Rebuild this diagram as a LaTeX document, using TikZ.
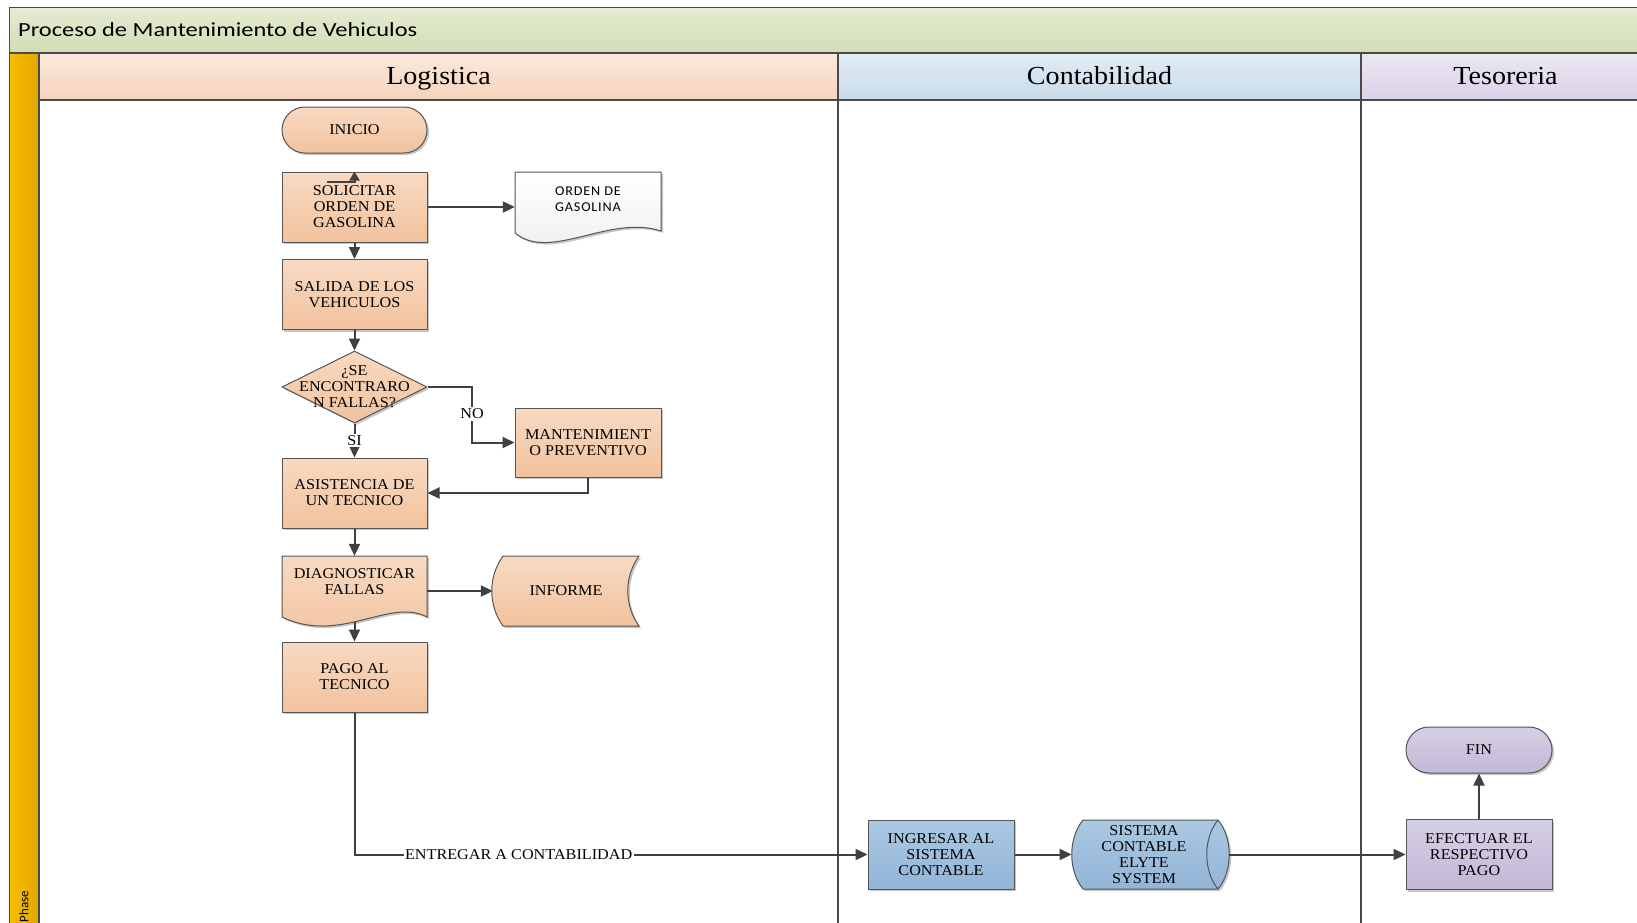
\documentclass[tikz,border=0pt]{standalone}
\usepackage{fontspec}
\setmainfont{Liberation Serif}
\newfontfamily\boxfont{Liberation Serif}[FakeStretch=1.08]
\newfontfamily\titlefont{Carlito}[FakeStretch=1.22]
\newfontfamily\docfont{Carlito}[FakeStretch=1.05,LetterSpace=6]
\newfontfamily\phasefont{Carlito}
\usetikzlibrary{arrows.meta,shapes.geometric,shadows,calc}

\newcommand\boxtxt{\boxfont\fontsize{15}{16}\selectfont}
\newcommand\headtxt{\boxfont\fontsize{26}{30}\selectfont}
\newcommand\titletxt{\titlefont\fontsize{20}{24}\selectfont}
\newcommand\doctxt{\docfont\fontsize{13.5}{16}\selectfont}
\newcommand\phasetxt{\phasefont\fontsize{13}{15}\selectfont}

\definecolor{laneline}{HTML}{4A4A4A}
\definecolor{boxline}{HTML}{555555}
\definecolor{conncol}{HTML}{404040}
\definecolor{titletop}{HTML}{E4EBD2}
\definecolor{titlebot}{HTML}{D3DDB4}
\definecolor{phaseA}{HTML}{F8BE00}
\definecolor{phaseB}{HTML}{E2A700}
\definecolor{logtop}{HTML}{FBE9DC}
\definecolor{logbot}{HTML}{F5D3BC}
\definecolor{contop}{HTML}{E2ECF5}
\definecolor{conbot}{HTML}{C8DBE9}
\definecolor{testop}{HTML}{ECE8F3}
\definecolor{tesbot}{HTML}{DAD2E7}
\definecolor{peachtop}{HTML}{F8DAC2}
\definecolor{peachbot}{HTML}{F2C29D}
\definecolor{bluetop}{HTML}{ABC8E2}
\definecolor{bluebot}{HTML}{92B5D8}
\definecolor{liltop}{HTML}{D6D0E4}
\definecolor{lilbot}{HTML}{C2B8D6}
\definecolor{docgray}{HTML}{EDEDED}

\begin{document}
\begin{tikzpicture}[x=1pt,y=-1pt,
  lane/.style={draw=laneline, line width=1.5pt},
  shade/.style={drop shadow={shadow xshift=2pt,shadow yshift=-2pt,opacity=.22,fill=black}},
  box/.style={rectangle, draw=boxline, line width=1pt, minimum width=145,
    minimum height=70, inner sep=2pt, align=center, font=\boxtxt, shade},
  term/.style={box, rounded corners=23, minimum height=46},
  shapeline/.style={draw=boxline, line width=1pt, shade},
  peachfill/.style={top color=peachtop, bottom color=peachbot},
  bluefill/.style={top color=bluetop, bottom color=bluebot},
  lilacfill/.style={top color=liltop, bottom color=lilbot},
  holder/.style={rectangle, inner sep=0pt},
  txt/.style={align=center, font=\boxtxt, inner sep=0pt},
  conn/.style={draw=conncol, line width=2pt, -{Triangle[length=12pt,width=11pt]}},
  lbl/.style={fill=white, inner sep=1.5pt, font=\boxtxt},
  head/.style={font=\headtxt, anchor=base, inner sep=0pt},
]
\clip (0,0) rectangle (1637,922);
\fill[white] (0,0) rectangle (1637,922);

% pool title band
\path[lane, top color=titletop, bottom color=titlebot] (9.5,7.5) rectangle (1700,53);
\node[anchor=west, font=\titletxt, inner sep=0pt] (title) at (18,30) {Proceso de Mantenimiento de Vehiculos};

% phase strip
\path[lane, left color=phaseA, right color=phaseB] (9.5,53) rectangle (39,960);
\node[rotate=90, anchor=east, font=\phasetxt, inner sep=0pt] (phase) at (24,891) {Phase};

% lane headers
\path[lane, top color=logtop, bottom color=logbot] (39,53) rectangle (838,100);
\path[lane, top color=contop, bottom color=conbot] (838,53) rectangle (1361,100);
\path[lane, top color=testop, bottom color=tesbot] (1361,53) rectangle (1700,100);
\node[head] (hlog) at (438.5,84.5) {Logistica};
\node[head] (hcon) at (1099.5,84.5) {Contabilidad};
\node[head] (htes) at (1505.5,84.5) {Tesoreria};

% lane bodies
\draw[lane] (39,100) rectangle (838,960);
\draw[lane] (838,100) rectangle (1361,960);
\draw[lane] (1361,100) rectangle (1700,960);

% ---- Logistica ----
\node[term, peachfill] (inicio) at (354.5,130) {INICIO};
\node[box, peachfill] (solicitar) at (354.5,207) {SOLICITAR\\ORDEN DE\\GASOLINA};

% document: orden de gasolina
\path[shapeline, top color=white, bottom color=docgray]
  (515,172) -- (661,172) -- (661,231)
  .. controls (610,214) and (550,262) .. (515,233) -- cycle;
\node[holder, minimum width=146, minimum height=70] (orden) at (588,207) {};
\node[txt, font=\doctxt] (ordentxt) at (588,199) {ORDEN DE\\GASOLINA};

\node[box, peachfill] (salida) at (354.5,294.5) {SALIDA DE LOS\\VEHICULOS};

% decision
\node[diamond, draw=boxline, line width=1pt, peachfill, shade, inner sep=0pt,
  minimum width=145, minimum height=72] (decide) at (354.5,387) {};
\node[txt] (decidetxt) at (354.5,387) {¿SE\\ENCONTRARO\\N FALLAS?};

\node[box, peachfill, minimum width=146, minimum height=69] (mant) at (588,442.5) {MANTENIMIENT\\O PREVENTIVO};
\node[box, peachfill] (asist) at (354.5,493) {ASISTENCIA DE\\UN TECNICO};

% document: diagnosticar fallas
\path[shapeline, peachfill]
  (282,556) -- (427,556) -- (427,617)
  .. controls (390,597) and (340,645) .. (282,617) -- cycle;
\node[holder, minimum width=145, minimum height=70] (diag) at (354.5,591) {};
\node[txt] (diagtxt) at (354.5,582) {DIAGNOSTICAR\\FALLAS};
\coordinate (diagbot) at (354.5,621.5);

% stored data: informe
\path[shapeline, peachfill]
  (503,556) -- (639,556)
  .. controls (624,577) and (624,605) .. (639,626) -- (503,626)
  .. controls (488,605) and (488,577) .. (503,556) -- cycle;
\node[holder, minimum width=146, minimum height=70] (informe) at (566,591) {};
\node[txt] (informetxt) at (566,591) {INFORME};

\node[box, peachfill] (pago) at (354.5,677) {PAGO AL\\TECNICO};

% ---- Contabilidad ----
\node[box, bluefill, minimum width=146, minimum height=69] (ingresar) at (941,854.5) {INGRESAR AL\\SISTEMA\\CONTABLE};

% direct access storage: sistema contable
\path[shapeline, bluefill]
  (1083,820) -- (1218,820)
  .. controls (1233,838) and (1233,871) .. (1218,889) -- (1083,889)
  .. controls (1068,871) and (1068,838) .. (1083,820) -- cycle;
\draw[draw=boxline, line width=1pt]
  (1218,820) .. controls (1203,838) and (1203,871) .. (1218,889);
\node[holder, minimum width=157.5, minimum height=69] (sistema) at (1150.5,854.5) {};
\node[txt] (sistematxt) at (1144,854.5) {SISTEMA\\CONTABLE\\ELYTE\\SYSTEM};

% ---- Tesoreria ----
\node[box, lilacfill, minimum width=146] (efectuar) at (1479,854.5) {EFECTUAR EL\\RESPECTIVO\\PAGO};
\node[term, lilacfill, minimum width=146] (fin) at (1479,750) {FIN};

% ---- connectors ----
\coordinate (stub) at (327,182);
\draw[conn, -{Triangle[length=9pt,width=10pt]}] (stub) -| (solicitar.north);
\draw[conn] (solicitar.east) -- (orden.west);
\draw[conn] (solicitar.south) -- (salida.north);
\draw[conn] (salida.south) -- (decide.north);
\coordinate (nobend) at (472,387);
\draw[conn] (decide.east) -- (nobend) |- (mant.west);
\node[lbl] (no) at (472,414) {NO};
\draw[conn] (decide.south) -- node[lbl, pos=0.5] (si) {SI} (asist.north);
\draw[conn] (mant.south) |- (asist.east);
\draw[conn] (asist.south) -- (diag.north);
\draw[conn] (diag.east) -- (informe.west);
\draw[conn] (diagbot) -- (pago.north);
\draw[conn] (pago.south) |- node[lbl, pos=0.66] (entregar) {ENTREGAR A CONTABILIDAD} (ingresar.west);
\draw[conn] (ingresar.east) -- (sistema.west);
\draw[conn] (sistema.east) -- (efectuar.west);
\draw[conn] (efectuar.north) -- (fin.south);
\end{tikzpicture}
\end{document}
